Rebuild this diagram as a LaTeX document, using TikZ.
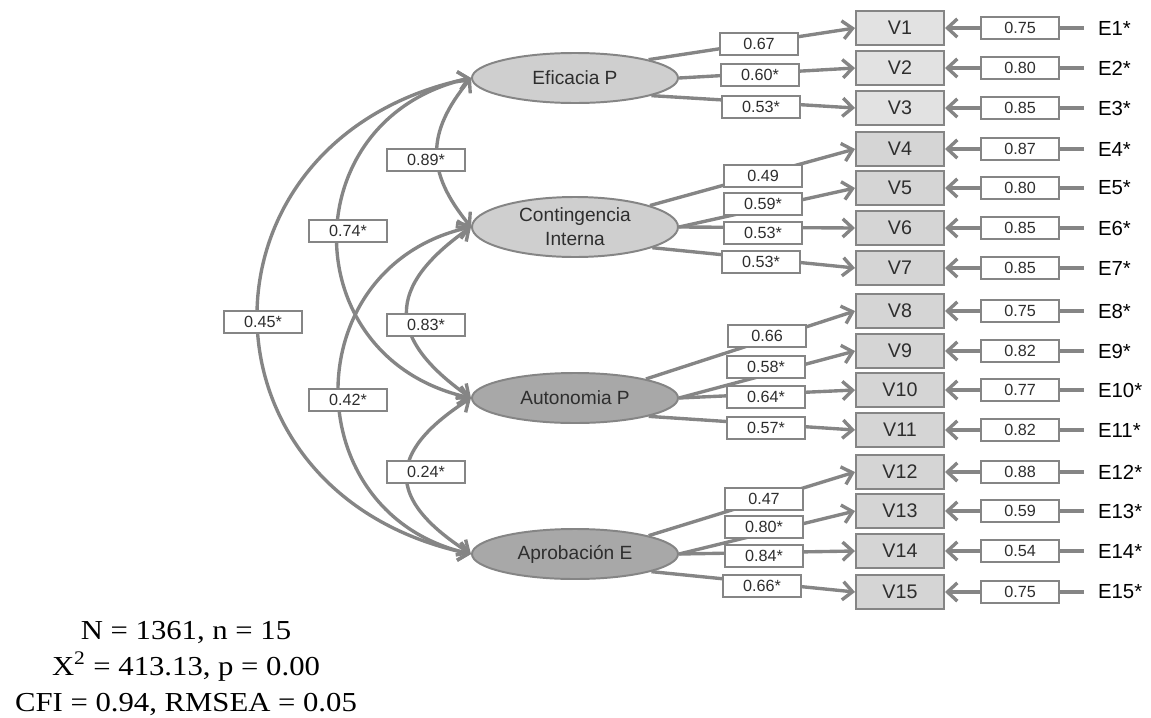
\documentclass[tikz,border=0pt]{standalone}
\usepackage{fontspec}
\usepackage{graphicx}
\setmainfont{Liberation Sans}
\newfontfamily\statfont{Liberation Serif}
\usetikzlibrary{arrows.meta,shapes.geometric}
\definecolor{lnc}{HTML}{858585}
\definecolor{txtc}{HTML}{2E2E2E}
\definecolor{latlt}{HTML}{CFCFCF}
\definecolor{latdk}{HTML}{A8A8A8}
\definecolor{obslt}{HTML}{E2E2E2}
\definecolor{obsf}{HTML}{D5D5D5}
\tikzset{latent/.style={ellipse, draw=lnc, line width=1.4pt, minimum width=5.15cm, minimum height=1.25cm,
      inner sep=0pt, align=center, text=txtc, font=\fontsize{13.6}{17}\selectfont}}
\tikzset{obs/.style={rectangle, draw=lnc, line width=1.4pt, fill=obsf, minimum width=2.2cm, minimum height=0.85cm,
      inner sep=0pt, text=txtc, font=\fontsize{14}{16}\selectfont}}
\tikzset{val/.style={rectangle, draw=lnc, line width=1.2pt, fill=white, minimum width=1.95cm, minimum height=0.56cm,
      inner sep=0pt, text=txtc, font=\fontsize{11.5}{13}\selectfont}}
\tikzset{errlab/.style={anchor=west, inner sep=0pt, outer xsep=0.35cm, text=black, font=\fontsize{14.5}{16}\selectfont}}
\tikzset{loading/.style={draw=lnc, line width=2.4pt, -{Straight Barb[length=7pt,width=13pt]}}}
\tikzset{covar/.style={draw=lnc, line width=2.4pt, {Straight Barb[length=7pt,width=13pt]}-{Straight Barb[length=7pt,width=13pt]}}}

\begin{document}
\begin{tikzpicture}[x=0.025cm,y=-0.025cm]
    \useasboundingbox (0,0) rectangle (1151,717);

    \node[latent, fill=latlt] (Ef) at (575,78) {Eficacia P};
    \node[latent, fill=latlt, minimum height=1.5cm] (Ct) at (575,227) {Contingencia\\Interna};
    \node[latent, fill=latdk] (Au) at (575,398) {Autonomia P};
    \node[latent, fill=latdk] (Ap) at (575,554) {Aprobación E};

    \node[obs, fill=obslt] (V1) at (900,28) {V1};
    \node[obs, fill=obslt] (V2) at (900,68) {V2};
    \node[obs, fill=obslt] (V3) at (900,108) {V3};
    \node[obs] (V4) at (900,149) {V4};
    \node[obs] (V5) at (900,188) {V5};
    \node[obs] (V6) at (900,228) {V6};
    \node[obs] (V7) at (900,268) {V7};
    \node[obs] (V8) at (900,311) {V8};
    \node[obs] (V9) at (900,351) {V9};
    \node[obs] (V10) at (900,390) {V10};
    \node[obs] (V11) at (900,430) {V11};
    \node[obs] (V12) at (900,472) {V12};
    \node[obs] (V13) at (900,511) {V13};
    \node[obs] (V14) at (900,551) {V14};
    \node[obs] (V15) at (900,592) {V15};

    \node[errlab] (E1) at (1084,28) {E1*};
    \node[errlab] (E2) at (1084,68) {E2*};
    \node[errlab] (E3) at (1084,108) {E3*};
    \node[errlab] (E4) at (1084,149) {E4*};
    \node[errlab] (E5) at (1084,188) {E5*};
    \node[errlab] (E6) at (1084,228) {E6*};
    \node[errlab] (E7) at (1084,268) {E7*};
    \node[errlab] (E8) at (1084,311) {E8*};
    \node[errlab] (E9) at (1084,351) {E9*};
    \node[errlab] (E10) at (1084,390) {E10*};
    \node[errlab] (E11) at (1084,430) {E11*};
    \node[errlab] (E12) at (1084,472) {E12*};
    \node[errlab] (E13) at (1084,511) {E13*};
    \node[errlab] (E14) at (1084,551) {E14*};
    \node[errlab] (E15) at (1084,592) {E15*};

    \draw[covar] (Ef.west) .. controls +(-45,55) and +(-45,-55) .. (Ct.west);
    \draw[covar] (Ef.west) .. controls +(-178,40) and +(-178,-40) .. (Au.west);
    \draw[covar] (Ef.west) .. controls +(-284,60) and +(-284,-60) .. (Ap.west);
    \draw[covar] (Ct.west) .. controls +(-85,60) and +(-85,-60) .. (Au.west);
    \draw[covar] (Ct.west) .. controls +(-176,40) and +(-176,-40) .. (Ap.west);
    \draw[covar] (Au.west) .. controls +(-85,55) and +(-85,-55) .. (Ap.west);

    \draw[loading] (Ef.14) -- (V1.west);
    \draw[loading] (Ef.east) -- (V2.west);
    \draw[loading] (Ef.-13) -- (V3.west);
    \draw[loading] (Ct.16) -- (V4.west);
    \draw[loading] (Ct.east) -- (V5.west);
    \draw[loading] (Ct.east) -- (V6.west);
    \draw[loading] (Ct.-15) -- (V7.west);
    \draw[loading] (Au.15) -- (V8.west);
    \draw[loading] (Au.east) -- (V9.west);
    \draw[loading] (Au.east) -- (V10.west);
    \draw[loading] (Au.-14) -- (V11.west);
    \draw[loading] (Ap.14) -- (V12.west);
    \draw[loading] (Ap.east) -- (V13.west);
    \draw[loading] (Ap.east) -- (V14.west);
    \draw[loading] (Ap.-13) -- (V15.west);

    \draw[loading] (E1) -- (V1);
    \draw[loading] (E2) -- (V2);
    \draw[loading] (E3) -- (V3);
    \draw[loading] (E4) -- (V4);
    \draw[loading] (E5) -- (V5);
    \draw[loading] (E6) -- (V6);
    \draw[loading] (E7) -- (V7);
    \draw[loading] (E8) -- (V8);
    \draw[loading] (E9) -- (V9);
    \draw[loading] (E10) -- (V10);
    \draw[loading] (E11) -- (V11);
    \draw[loading] (E12) -- (V12);
    \draw[loading] (E13) -- (V13);
    \draw[loading] (E14) -- (V14);
    \draw[loading] (E15) -- (V15);

    \node[val] (c1) at (426,160) {0.89*};
    \node[val] (c2) at (348,231) {0.74*};
    \node[val] (c3) at (263,322) {0.45*};
    \node[val] (c4) at (426,325) {0.83*};
    \node[val] (c5) at (348,400) {0.42*};
    \node[val] (c6) at (426,472) {0.24*};

    \node[val] (l1) at (759,44) {0.67};
    \node[val] (l2) at (760,75) {0.60*};
    \node[val] (l3) at (761,107) {0.53*};
    \node[val] (l4) at (763,176) {0.49};
    \node[val] (l5) at (763,204) {0.59*};
    \node[val] (l6) at (763,233) {0.53*};
    \node[val] (l7) at (761,262) {0.53*};
    \node[val] (l8) at (767,336) {0.66};
    \node[val] (l9) at (766,367) {0.58*};
    \node[val] (l10) at (766,397) {0.64*};
    \node[val] (l11) at (766,428) {0.57*};
    \node[val] (l12) at (764,499) {0.47};
    \node[val] (l13) at (764,527) {0.80*};
    \node[val] (l14) at (764,556) {0.84*};
    \node[val] (l15) at (762,586) {0.66*};

    \node[val] (r1) at (1020,28) {0.75};
    \node[val] (r2) at (1020,68) {0.80};
    \node[val] (r3) at (1020,108) {0.85};
    \node[val] (r4) at (1020,149) {0.87};
    \node[val] (r5) at (1020,188) {0.80};
    \node[val] (r6) at (1020,228) {0.85};
    \node[val] (r7) at (1020,268) {0.85};
    \node[val] (r8) at (1020,311) {0.75};
    \node[val] (r9) at (1020,351) {0.82};
    \node[val] (r10) at (1020,390) {0.77};
    \node[val] (r11) at (1020,430) {0.82};
    \node[val] (r12) at (1020,472) {0.88};
    \node[val] (r13) at (1020,511) {0.59};
    \node[val] (r14) at (1020,551) {0.54};
    \node[val] (r15) at (1020,592) {0.75};

    \node[inner sep=0pt, font=\statfont\fontsize{19.5}{25.6}\selectfont] (stats) at (186,668)
      {\scalebox{1.12}[1]{\begin{tabular}{@{}c@{}}N = 1361, n = 15\\X\textsuperscript{2} = 413.13, p = 0.00\\CFI = 0.94, RMSEA = 0.05\end{tabular}}};
\end{tikzpicture}
\end{document}
